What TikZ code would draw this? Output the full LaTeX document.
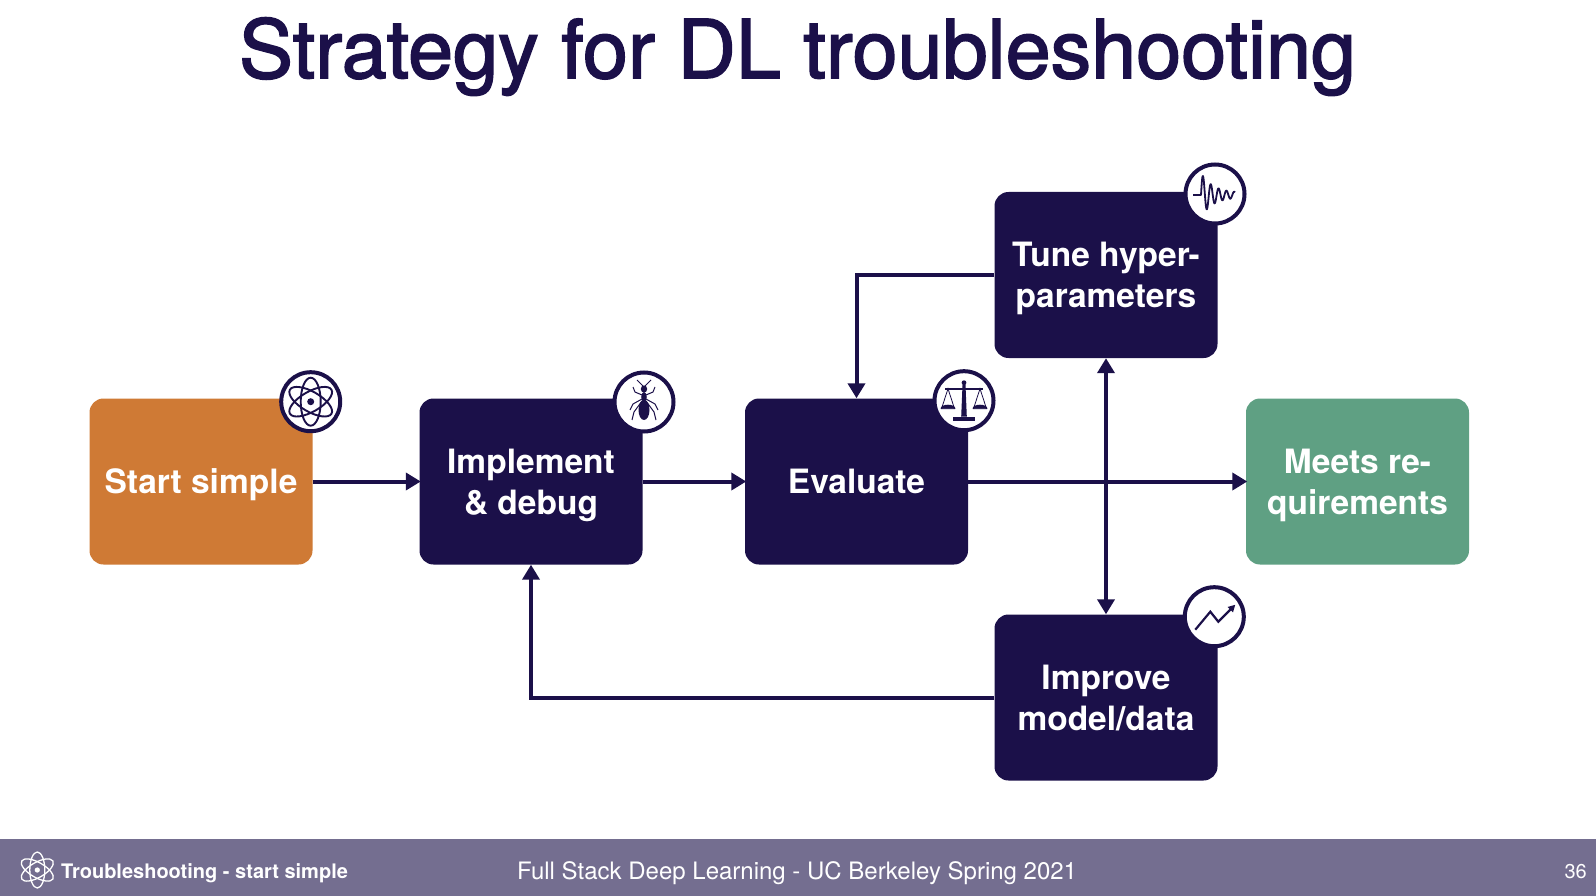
\documentclass[tikz,border=0pt]{standalone}
\usepackage{fontspec}
\setmainfont{TeX Gyre Heros}
\newfontfamily\titlefont[FakeBold=2]{TeX Gyre Heros}
\usetikzlibrary{arrows.meta}
\definecolor{navy}{HTML}{1B1049}
\definecolor{startorange}{HTML}{CF7A35}
\definecolor{goalgreen}{HTML}{5FA083}
\definecolor{footbar}{HTML}{746E90}
\tikzset{
  pics/atomglyph/.style={code={
      \foreach \ang in {0,60,120}
        \draw[rotate=\ang] (0,0) ellipse (10 and 24);
      \fill (0,0) circle (3.5);
    }},
  pics/antglyph/.style={code={
      \fill (0,-13) ellipse (3.2 and 3.6);
      \fill (0,-5) ellipse (2.8 and 5);
      \fill (0,8) ellipse (5.5 and 10);
      \draw (-1,-16) -- (-7,-22);
      \draw (1,-16) -- (7,-22);
      \draw (-2,-7) -- (-9,-10) -- (-11,-15);
      \draw (2,-7) -- (9,-10) -- (11,-15);
      \draw (-2,-3) -- (-11,2) -- (-14,8);
      \draw (2,-3) -- (11,2) -- (14,8);
      \draw (-2,-1) -- (-10,10) -- (-12,18);
      \draw (2,-1) -- (10,10) -- (12,18);
    }},
  pics/scaleglyph/.style={code={
      \fill (0,-18) circle (2.4);
      \fill (-1.4,-18) -- (1.4,-18) -- (2.8,16) -- (-2.8,16) -- cycle;
      \fill (-11,16) rectangle (11,20);
      \draw[line width=1.6] (-19,-12) -- (19,-12);
      \foreach \sgn in {-1,1} {
        \draw[line width=.8] (\sgn*16,-12) -- (\sgn*16+6.5,8) -- (\sgn*16-6.5,8) -- cycle;
        \fill (\sgn*16+7.5,8) arc[start angle=0, end angle=-180, x radius=7.5, y radius=4] -- cycle;
      }
    }},
  pics/waveglyph/.style={code={
      \draw[line join=round] (-22,1) -- (-14,1)
        -- plot[domain=-14:20, samples=120, smooth]
           (\x,{1-(2+20*exp(-(\x+14)/12))*sin(46*(\x+14))});
    }},
  pics/trendglyph/.style={code={
      \draw[-{Triangle[length=7,width=7]}] (-19,13) -- (-4,-5) -- (4,5) -- (21,-12);
    }}
}
\begin{document}
\begin{tikzpicture}[
    x=1pt, y=-1pt,
    >={Triangle[length=15pt,width=17pt]},
    box/.style={rounded corners=14pt, minimum width=223pt, minimum height=166pt,
      inner sep=0pt, align=center, text=white, text depth=0pt,
      font={\fontsize{33.5}{40.7}\bfseries\selectfont}},
    arr/.style={->, draw=navy, line width=4pt},
    harr/.style={arr, shorten >=-1.5pt},
    ring/.style={circle, draw=navy, line width=4pt, fill=white, minimum size=59pt, inner sep=0pt},
    glyph/.style={color=navy, line width=1.9pt},
    foot/.style={text=white, anchor=base, inner sep=0pt}
  ]
  \useasboundingbox (0,0) rectangle (1596,896);
  \fill[white] (0,0) rectangle (1596,896);

  % Title
  \node[text=navy, anchor=base, inner sep=0pt, font={\fontsize{81}{90}\titlefont\selectfont}]
    (title) at (797.5,78) {Strategy for DL troubleshooting};

  % Boxes
  \node[box, fill=startorange] (start) at (201,481.5) {Start simple};
  \node[box, fill=navy] (impl) at (531,481.5) {Implement\\\& debug};
  \node[box, fill=navy] (eval) at (856.5,481.5) {Evaluate};
  \node[box, fill=navy] (tune) at (1106,275) {Tune hyper-\\parameters};
  \node[box, fill=navy] (improve) at (1106,697.5) {Improve\\model/data};
  \node[box, fill=goalgreen] (meets) at (1357.5,481.5) {Meets re-\\quirements};

  % Arrows
  \draw[harr] (start) -- (impl);
  \draw[harr] (impl) -- (eval);
  \draw[harr] (eval) -- (meets);
  \draw[arr] (tune.west) -| (eval.north);
  \draw[arr, <->] (tune) -- (improve);
  \draw[arr] (improve.west) -| (impl.south);

  % Icons
  \node[ring] (starticon) at (310.7,401.7) {};
  \node[ring] (implicon) at (644,402) {};
  \node[ring] (evalicon) at (964,400.7) {};
  \node[ring] (tuneicon) at (1215,194) {};
  \node[ring] (improveicon) at (1214.3,616.7) {};
  \pic[glyph] at (starticon) {atomglyph};
  \pic[glyph, line width=1pt] at (implicon) {antglyph};
  \pic[glyph] at (evalicon) {scaleglyph};
  \pic[glyph, line width=1.8pt] at (tuneicon) {waveglyph};
  \pic[glyph, line width=2.2pt] at (improveicon) {trendglyph};

  % Footer
  \fill[footbar] (0,839) rectangle (1596,896);
  \pic[color=white, scale=.75, line width=1.3pt] at (37.3,870) {atomglyph};
  \node[foot, anchor=base west, font={\fontsize{20}{24}\bfseries\selectfont}]
    (section) at (61,878) {Troubleshooting - start simple};
  \node[foot, anchor=base west, font={\fontsize{24}{26}\selectfont}]
    (course) at (517,879) {Full Stack Deep Learning - UC Berkeley Spring 2021};
  \node[foot, anchor=base east, font={\fontsize{20}{24}\selectfont}]
    (page) at (1587,878) {36};
\end{tikzpicture}
\end{document}
